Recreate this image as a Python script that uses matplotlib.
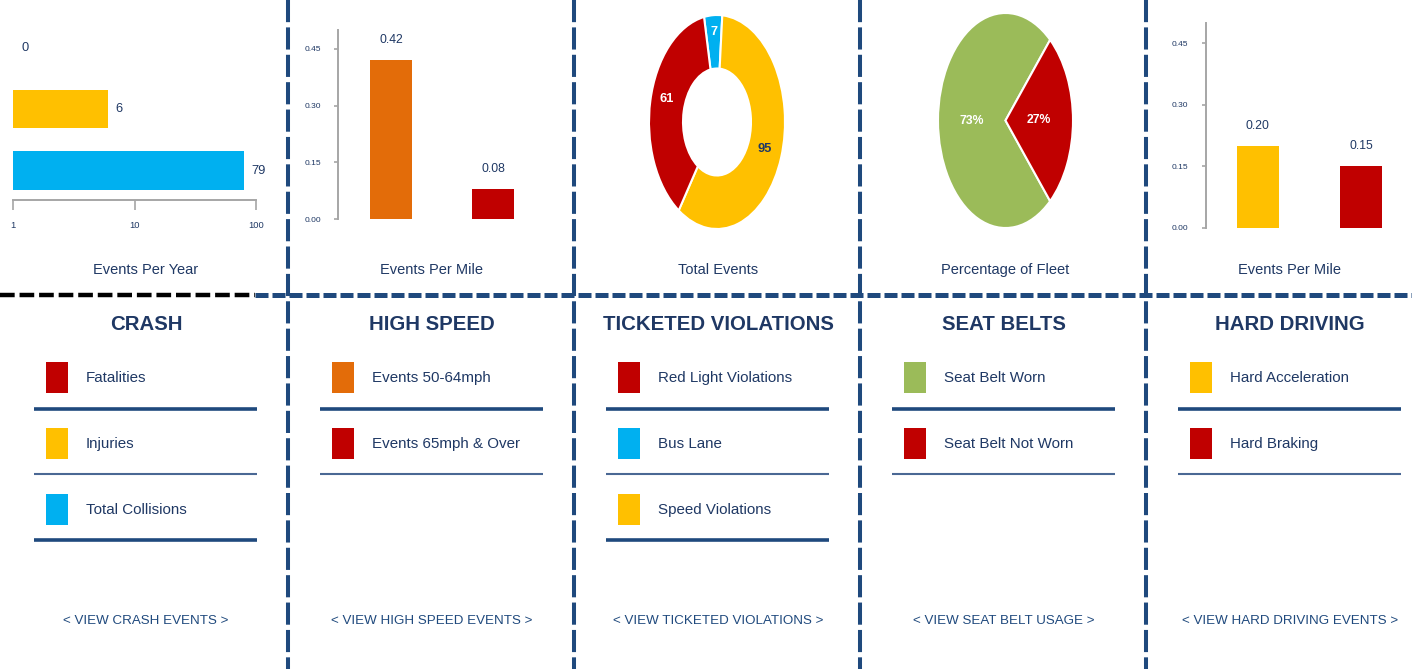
import numpy as np
import matplotlib
matplotlib.use('Agg')
import matplotlib.pyplot as plt
from matplotlib import font_manager as fm
from matplotlib.ticker import NullLocator
from matplotlib.patches import Rectangle

W, H = 1412, 669
DPI = 100

# ---------------- data ----------------
crash_categories = ['Fatalities', 'Injuries', 'Total Collisions']
crash_values = [0, 6, 79]
crash_ticks = [1, 10, 100]
crash_tick_labels = ['1', '10', '100']

speed_categories = ['Events 50-64mph', 'Events 65mph & Over']
speed_values = [0.42, 0.08]

ticket_categories = ['Red Light Violations', 'Bus Lane', 'Speed Violations']
ticket_values = [61, 7, 95]

seatbelt_categories = ['Seat Belt Worn', 'Seat Belt Not Worn']
seatbelt_values = [73, 27]

hard_categories = ['Hard Acceleration', 'Hard Braking']
hard_values = [0.20, 0.15]

rate_ticks = [0.00, 0.15, 0.30, 0.45]
rate_tick_labels = ['0.00', '0.15', '0.30', '0.45']

section_titles = ['CRASH', 'HIGH SPEED', 'TICKETED VIOLATIONS', 'SEAT BELTS', 'HARD DRIVING']
chart_captions = ['Events Per Year', 'Events Per Mile', 'Total Events',
                  'Percentage of Fleet', 'Events Per Mile']
link_texts = ['< VIEW CRASH EVENTS >', '< VIEW HIGH SPEED EVENTS >',
              '< VIEW TICKETED VIOLATIONS >', '< VIEW SEAT BELT USAGE >',
              '< VIEW HARD DRIVING EVENTS >']

# ---------------- style ----------------
RED = '#C00000'
YELLOW = '#FFC000'
BLUE = '#00B0F0'
ORANGE = '#E36C09'
GREEN = '#9BBB59'
NAVY = '#1F497D'
NAVY_T = '#1F3864'
THIN = '#4A6894'
GRAY = '#A6A6A6'

crash_colors = [RED, YELLOW, BLUE]
speed_colors = [ORANGE, RED]
ticket_colors = [RED, BLUE, YELLOW]
seatbelt_colors = [GREEN, RED]
hard_colors = [YELLOW, RED]

available = {f.name for f in fm.fontManager.ttflist}
if 'Liberation Sans Narrow' in available:
    FONT = 'Liberation Sans Narrow'
    S = 1.0
else:
    FONT = 'Liberation Sans'
    S = 0.84
plt.rcParams['font.family'] = [FONT, 'DejaVu Sans']

fig = plt.figure(figsize=(W / DPI, H / DPI), dpi=DPI)
fig.patch.set_facecolor('white')


def add_px_axes(x0, y0, x1, y1, **kw):
    return fig.add_axes([x0 / W, 1 - y1 / H, (x1 - x0) / W, (y1 - y0) / H], **kw)


# ---------------- overlay (lines & text) ----------------
axo = fig.add_axes([0, 0, 1, 1])
axo.set_xlim(0, W)
axo.set_ylim(H, 0)
axo.axis('off')
axo.patch.set_alpha(0)

for x in [288, 574, 860, 1146]:
    axo.plot([x, x], [0, H], color=NAVY, lw=2.9, dashes=(5.5, 1.3), solid_capstyle='butt')
axo.plot([0, 255], [295, 295], color='black', lw=3.2, dashes=(3.3, 1.1))
axo.plot([255, W], [295, 295], color=NAVY, lw=3.6, dashes=(2.6, 0.8))

centers = [146, 432, 718, 1004, 1290]
caption_x = [146, 432, 718, 1005, 1290]
legend_cats = [crash_categories, speed_categories, ticket_categories,
               seatbelt_categories, hard_categories]
legend_cols = [crash_colors, speed_colors, ticket_colors, seatbelt_colors, hard_colors]
row_y = [377, 443, 509]
line_y = [409, 474, 540]

for i, cx in enumerate(centers):
    axo.text(caption_x[i], 270, chart_captions[i], ha='center', va='center',
             fontsize=12.5 * S, color=NAVY_T)
    axo.text(cx, 324, section_titles[i], ha='center', va='center',
             fontsize=17.5 * S, fontweight='bold', color=NAVY_T)
    for j, (cat, col) in enumerate(zip(legend_cats[i], legend_cols[i])):
        y = row_y[j]
        axo.add_patch(Rectangle((cx - 100, y - 15.5), 22, 31, facecolor=col,
                                edgecolor='none'))
        axo.text(cx - 60, y + 1, cat, ha='left', va='center', fontsize=13 * S, color=NAVY_T)
        thick = (j % 2 == 0)
        axo.plot([cx - 112, cx + 111], [line_y[j], line_y[j]],
                 color=NAVY if thick else THIN, lw=2.6 if thick else 1.5,
                 solid_capstyle='butt')
    axo.text(cx, 621, link_texts[i], ha='center', va='center',
             fontsize=11.5 * S, color=NAVY)

# ---------------- panel 1: crash (log bars) ----------------
ax1 = add_px_axes(13, 17, 256, 200)
ypos = [2, 1, 0]
for y, v, c in zip(ypos, crash_values, crash_colors):
    if v > 0:
        ax1.barh(y, v - 1, left=1, height=0.62, color=c)
    ax1.annotate(str(v), xy=(max(v, 1), y), xytext=(8, 0), textcoords='offset pixels',
                 ha='left', va='center', fontsize=11 * S, color=NAVY_T)
ax1.set_xscale('log')
ax1.set_xlim(1, 100)
ax1.set_ylim(-0.48, 2.5)
ax1.set_xticks(crash_ticks)
ax1.set_xticklabels(crash_tick_labels)
ax1.xaxis.set_minor_locator(NullLocator())
ax1.set_yticks([])
for s in ['top', 'right', 'left']:
    ax1.spines[s].set_visible(False)
ax1.spines['bottom'].set_color(GRAY)
ax1.spines['bottom'].set_linewidth(1.4)
ax1.tick_params(axis='x', direction='out', length=7, width=1.2, color=GRAY,
                labelsize=8 * S, labelcolor=NAVY_T, pad=8)
ax1.patch.set_alpha(0)


def rate_panel(ax, values, colors, width, xlim, pad):
    ax.bar(range(len(values)), values, width=width, color=colors)
    for x, v in enumerate(values):
        ax.annotate(f'{v:.2f}', xy=(x, v), xytext=(0, 20), textcoords='offset pixels',
                    ha='center', va='center', fontsize=10.5 * S, color=NAVY_T)
    ax.set_ylim(0, 0.5)
    ax.set_xlim(*xlim)
    ax.set_yticks(rate_ticks)
    ax.set_yticklabels(rate_tick_labels)
    ax.set_xticks([])
    for s in ['top', 'right', 'bottom']:
        ax.spines[s].set_visible(False)
    ax.spines['left'].set_color(GRAY)
    ax.spines['left'].set_linewidth(1.4)
    ax.tick_params(axis='y', direction='out', length=3, width=1.2, color=GRAY,
                   labelsize=7.2 * S, labelcolor=NAVY_T, pad=pad)
    ax.patch.set_alpha(0)


# ---------------- panel 2: high speed ----------------
ax2 = add_px_axes(338, 30, 546, 219)
rate_panel(ax2, speed_values, speed_colors, 0.42, (-0.52, 1.52), 9)

# ---------------- panel 5: hard driving ----------------
ax5 = add_px_axes(1206, 22.5, 1413, 228)
rate_panel(ax5, hard_values, hard_colors, 0.41, (-0.5, 1.5), 10)

# ---------------- panel 3: donut ----------------
cx3, cy3, rx3, ry3 = 717, 122, 68, 107
ax3 = add_px_axes(cx3 - rx3 * 1.05, cy3 - ry3 * 1.05, cx3 + rx3 * 1.05, cy3 + ry3 * 1.05)
order = [1, 2, 0]   # Bus Lane, Speed Violations, Red Light Violations (clockwise from top)
d_vals = [ticket_values[k] for k in order]
d_cols = [ticket_colors[k] for k in order]
wedges, _ = ax3.pie(d_vals, colors=d_cols, startangle=101, counterclock=False,
                    radius=1.0, wedgeprops=dict(width=0.5, edgecolor='white', linewidth=1.5))
label_r = [0.84, 0.75, 0.76]
label_c = ['white', NAVY_T, 'white']
for w, v, r, c in zip(wedges, d_vals, label_r, label_c):
    ang = np.deg2rad((w.theta1 + w.theta2) / 2)
    ax3.text(r * np.cos(ang), r * np.sin(ang) + (0.06 if c == 'white' and v > 10 else 0),
             str(v), ha='center', va='center',
             fontsize=11 * S, fontweight='bold', color=c)
ax3.set_aspect('auto')
ax3.set_xlim(-1.05, 1.05)
ax3.set_ylim(-1.05, 1.05)
ax3.axis('off')

# ---------------- panel 4: seat belt pie ----------------
cx4, cy4, rx4, ry4 = 1005.5, 120.5, 67.5, 107.5
ax4 = add_px_axes(cx4 - rx4 * 1.05, cy4 - ry4 * 1.05, cx4 + rx4 * 1.05, cy4 + ry4 * 1.05)
total_sb = sum(seatbelt_values)
start4 = 360 * seatbelt_values[1] / total_sb / 2
wedges4, _ = ax4.pie(seatbelt_values, colors=seatbelt_colors, startangle=start4,
                     counterclock=True, radius=1.0,
                     wedgeprops=dict(edgecolor='white', linewidth=1.5))
for w, v in zip(wedges4, seatbelt_values):
    ang = np.deg2rad((w.theta1 + w.theta2) / 2)
    ax4.text(0.5 * np.cos(ang), 0.5 * np.sin(ang), f'{round(100 * v / total_sb)}%',
             ha='center', va='center', fontsize=10.5 * S, fontweight='bold', color='white')
ax4.set_aspect('auto')
ax4.set_xlim(-1.05, 1.05)
ax4.set_ylim(-1.05, 1.05)
ax4.axis('off')

fig.savefig('out.png', dpi=DPI, facecolor='white')
